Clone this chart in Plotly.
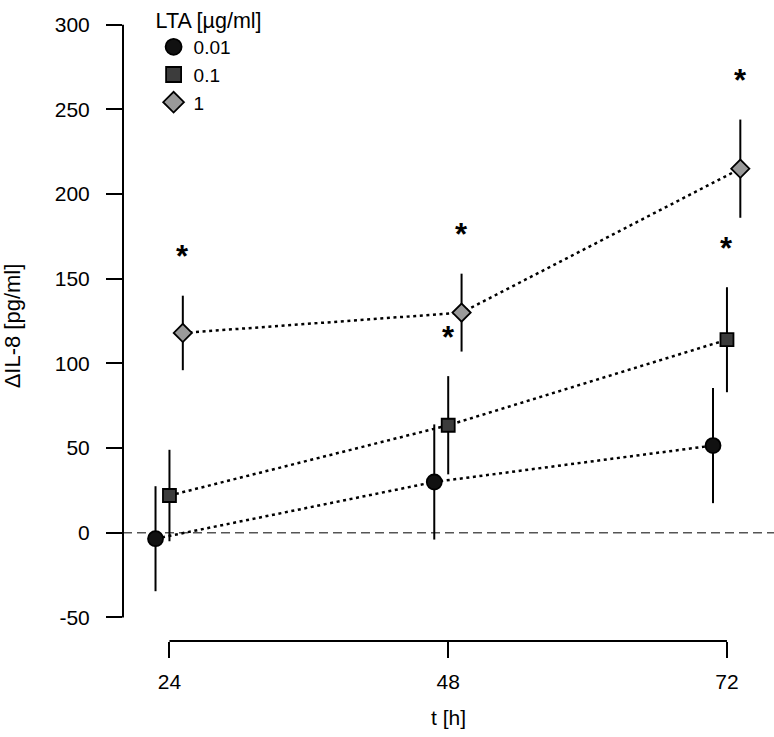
import plotly.graph_objects as go

# ---------------- data ----------------
times = [24, 48, 72]
series_names = ["0.01", "0.1", "1"]
mean_001 = [-3.5, 30, 51.5]
err_001 = [31, 34, 34]
mean_01 = [22, 63.5, 114]
err_01 = [27, 29, 31]
mean_1 = [118, 130, 215]
err_1 = [22, 23, 29]
sig_001 = [False, False, False]
sig_01 = [False, True, True]
sig_1 = [True, True, True]
x_ticks = [24, 48, 72]
y_ticks = [-50, 0, 50, 100, 150, 200, 250, 300]
y_ticklabels = ["-50", "0", "50", "100", "150", "200", "250", "300"]

# ---------------- style ----------------
FONT = "Liberation Sans, Arial, sans-serif"
FS = 21
styles = [
    dict(symbol="circle", size=15, fill="#111111", dodge=-1.2, lsize=16),
    dict(symbol="square", size=13, fill="#3c3c3c", dodge=0.0, lsize=15),
    dict(symbol="diamond", size=14, fill="#9a9a9a", dodge=1.15, lsize=16),
]
means = [mean_001, mean_01, mean_1]
errs = [err_001, err_01, err_1]
sigs = [sig_001, sig_01, sig_1]

fig = go.Figure()
annotations = []
for name, m, e, s, st in zip(series_names, means, errs, sigs, styles):
    xs = [t + st["dodge"] for t in times]
    fig.add_trace(go.Scatter(
        x=xs, y=m, mode="lines+markers", showlegend=False,
        line=dict(color="black", width=2.5, dash="3px,3.6px"),
        marker=dict(symbol=st["symbol"], size=st["size"], color=st["fill"],
                    line=dict(color="black", width=1.8)),
        error_y=dict(type="data", array=e, visible=True, color="black",
                     thickness=2, width=0),
    ))
    fig.add_trace(go.Scatter(
        x=[None], y=[None], mode="markers", name=name, showlegend=True,
        marker=dict(symbol=st["symbol"], size=st["lsize"], color=st["fill"],
                    line=dict(color="black", width=1.8)),
    ))
    for xi, mi, ei, si in zip(xs, m, e, s):
        if si:
            annotations.append(dict(
                x=xi, y=mi + ei, xref="x", yref="y", text="<b>*</b>", showarrow=False,
                yshift=39, font=dict(family=FONT, size=31, color="black"),
            ))

shapes = [
    # zero reference line
    dict(type="line", xref="paper", yref="y", x0=0, x1=1, y0=0, y1=0,
         line=dict(color="#555555", width=1.6, dash="9px,5px"), layer="below"),
    # range-frame axis lines
    dict(type="line", xref="x", yref="paper", x0=x_ticks[0], x1=x_ticks[-1],
         y0=0, y1=0, line=dict(color="black", width=2)),
    dict(type="line", xref="paper", yref="y", x0=0, x1=0,
         y0=y_ticks[0], y1=y_ticks[-1], line=dict(color="black", width=2)),
]

fig.update_layout(
    width=774, height=737,
    margin=dict(l=123, r=0, t=0, b=96, pad=0),
    paper_bgcolor="white", plot_bgcolor="white",
    font=dict(family=FONT, size=FS, color="black"),
    shapes=shapes, annotations=annotations,
    legend=dict(
        title=dict(text="LTA [µg/ml]", font=dict(size=21.5)),
        x=0.047, y=1.018, xanchor="left", yanchor="top",
        bgcolor="rgba(0,0,0,0)", font=dict(size=19),
        itemsizing="trace",
    ),
    xaxis=dict(
        range=[20.0, 76.05], tickvals=x_ticks, ticktext=[str(t) for t in x_ticks],
        ticks="outside", ticklen=16, tickwidth=2, tickcolor="black",
        showline=False, showgrid=False, zeroline=False,
        ticklabelstandoff=6,
        title=dict(text="t [h]", standoff=18, font=dict(size=FS)),
    ),
    yaxis=dict(
        range=[-63.9, 308.1], tickvals=y_ticks, ticktext=y_ticklabels,
        ticks="outside", ticklen=16, tickwidth=2, tickcolor="black",
        showline=False, showgrid=False, zeroline=False,
        ticklabelstandoff=12,
        title=dict(text="ΔIL-8 [pg/ml]", standoff=28, font=dict(size=22)),
    ),
)

fig.write_html("out.html", config={"displayModeBar": False},
               post_script="document.body.style.margin='0px';")
